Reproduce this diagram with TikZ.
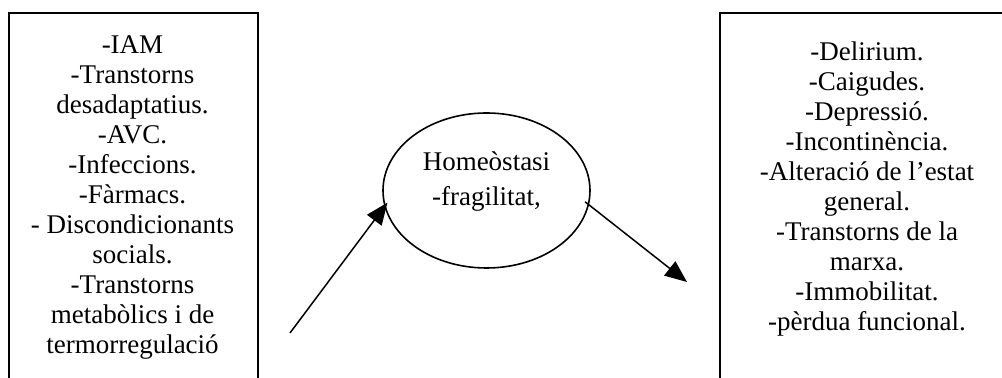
\documentclass[tikz,border=0pt]{standalone}
\usepackage{fontspec}
\setmainfont{Liberation Serif}
\usetikzlibrary{shapes.geometric,arrows.meta,calc}
\begin{document}
\begin{tikzpicture}[x=0.5pt,y=-0.5pt,
  boxframe/.style={draw=black,line width=1pt,inner sep=0pt,anchor=north west},
  listtext/.style={align=center,font=\fontsize{13.5}{15}\selectfont,inner sep=0pt,anchor=north},
  ovaltext/.style={align=center,font=\fontsize{13.5}{17.5}\selectfont,inner sep=0pt,anchor=north},
  oval/.style={ellipse,draw=black,line width=0.8pt,inner sep=0pt},
  conn/.style={draw=black,line width=0.75pt,-{Triangle[length=11pt,width=9pt]}}
]
\clip (0,0) rectangle (1002,378);
\fill[white] (0,0) rectangle (1002,378);
\node[boxframe,minimum width=124.5pt,minimum height=250pt] (LB) at (8,12) {};
\node[boxframe,minimum width=148pt,minimum height=250pt] (RB) at (719,12) {};
\node[listtext] (LT) at (132.5,33) {\rule{0pt}{10pt}-IAM\\-Transtorns\\desadaptatius.\\-AVC.\\-Infeccions.\\-Fàrmacs.\\- Discondicionants\\socials.\\-Transtorns\\metabòlics i de\\termorregulació};
\node[listtext] (RT) at (867,40) {\rule{0pt}{10pt}-Delirium.\\-Caigudes.\\-Depressió.\\-Incontinència.\\-Alteració de l'estat\\general.\\-Transtorns de la\\marxa.\\-Immobilitat.\\-pèrdua funcional.};
\node[oval,minimum width=103.5pt,minimum height=77.5pt] (E) at (486.5,190.5) {};
\node[ovaltext] (ET) at (486.5,150) {\rule{0pt}{10pt}Homeòstasi\\-fragilitat,};
\coordinate (A1) at (290,333);
\coordinate (A2) at (687,282);
\draw[conn,shorten >=-2.5pt] (A1) -- (E.189);
\draw[conn,shorten <=-2.5pt] (E.-8.5) -- (A2);
\end{tikzpicture}
\end{document}
